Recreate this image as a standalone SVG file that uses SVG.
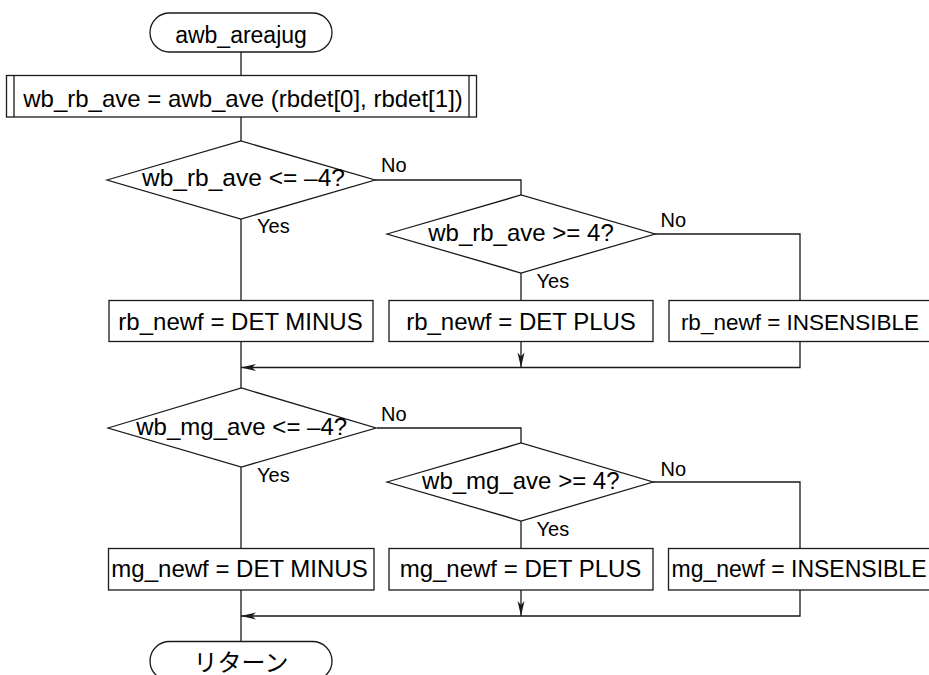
<svg xmlns="http://www.w3.org/2000/svg" width="929" height="675" viewBox="0 0 929 675">
<defs>
<style>
.s{fill:#fff;stroke:#1a1a1a;stroke-width:1.3}
.c{fill:none;stroke:#1a1a1a;stroke-width:1.3}
.t{font-family:"Liberation Sans",Arial,sans-serif;font-size:24px;fill:#000;text-anchor:middle}
.l{font-family:"Liberation Sans",Arial,sans-serif;font-size:20px;fill:#000}
.j{font-family:"Liberation Sans","Noto Sans CJK JP",sans-serif;font-size:24px;fill:#000;text-anchor:middle}
</style>
<marker id="arr" viewBox="-16 -5 17 10" refX="0" refY="0" markerWidth="17" markerHeight="10" orient="auto" markerUnits="userSpaceOnUse">
<path d="M0,0 L-15,-3.5 L-11,0 L-15,3.5 Z" fill="#1a1a1a"/>
</marker>
</defs>
<rect width="929" height="675" fill="#fff"/>
<g id="connectors">
<path class="c" d="M241,52 V75.5"/>
<path class="c" d="M241,117 V141"/>
<path class="c" d="M375,180 H521 V195"/>
<path class="c" d="M241,219 V300.5"/>
<path class="c" d="M521,273 V300.5"/>
<path class="c" d="M655,234 H800 V300.5"/>
<path class="c" d="M241,341.5 V388"/>
<path class="c" d="M521,341.5 V367.5" marker-end="url(#arr)"/>
<path class="c" d="M800,341.5 V367.5 H241" marker-end="url(#arr)"/>
<path class="c" d="M377,428 H521 V443"/>
<path class="c" d="M241,467 V548.5"/>
<path class="c" d="M521,521 V548.5"/>
<path class="c" d="M653,482 H800 V548.5"/>
<path class="c" d="M241,590 V641.5"/>
<path class="c" d="M521,590 V616" marker-end="url(#arr)"/>
<path class="c" d="M800,590 V616 H241" marker-end="url(#arr)"/>
</g>
<g id="labels">
<text class="l" x="381" y="172">No</text>
<text class="l" x="257" y="233">Yes</text>
<text class="l" x="660.5" y="227">No</text>
<text class="l" x="536.5" y="287.5">Yes</text>
<text class="l" x="381" y="420.5">No</text>
<text class="l" x="257" y="481.5">Yes</text>
<text class="l" x="660.5" y="475.5">No</text>
<text class="l" x="536.5" y="536">Yes</text>
</g>
<g id="start">
<rect class="s" x="150" y="13" width="182" height="39" rx="19.5"/>
<text class="t" x="241" y="42.5" style="font-size:23px">awb_areajug</text>
</g>
<g id="call_awb_ave">
<rect class="s" x="6.5" y="75.5" width="470" height="41.5"/>
<path class="c" d="M14,75.5 V117 M469,75.5 V117"/>
<text class="t" x="243" y="107">wb_rb_ave = awb_ave (rbdet[0], rbdet[1])</text>
</g>
<g id="dec_rb_minus">
<polygon class="s" points="107,180 241,141 375,180 241,219"/>
<text class="t" x="243.5" y="186" style="font-size:24.5px">wb_rb_ave &lt;= –4?</text>
</g>
<g id="dec_rb_plus">
<polygon class="s" points="387,234 521,195 655,234 521,273"/>
<text class="t" x="521" y="241">wb_rb_ave &gt;= 4?</text>
</g>
<g id="rb_minus">
<rect class="s" x="109" y="300.5" width="264" height="41"/>
<text class="t" x="240.5" y="329.5">rb_newf = DET MINUS</text>
</g>
<g id="rb_plus">
<rect class="s" x="389" y="300.5" width="264" height="41"/>
<text class="t" x="521" y="329.5">rb_newf = DET PLUS</text>
</g>
<g id="rb_insensible">
<rect class="s" x="669" y="300.5" width="262" height="41"/>
<text class="t" x="800" y="329.5" style="font-size:22.5px">rb_newf = INSENSIBLE</text>
</g>
<g id="dec_mg_minus">
<polygon class="s" points="108,428 241.5,388 376,428 241.5,467"/>
<text class="t" x="241.7" y="435">wb_mg_ave &lt;= –4?</text>
</g>
<g id="dec_mg_plus">
<polygon class="s" points="387,482 521,443 653,482 521,521"/>
<text class="t" x="520.8" y="488.5">wb_mg_ave &gt;= 4?</text>
</g>
<g id="mg_minus">
<rect class="s" x="108.5" y="548.5" width="265.5" height="41.5"/>
<text class="t" x="239.5" y="576.5">mg_newf = DET MINUS</text>
</g>
<g id="mg_plus">
<rect class="s" x="389" y="548.5" width="264" height="41.5"/>
<text class="t" x="520.5" y="576.5">mg_newf = DET PLUS</text>
</g>
<g id="mg_insensible">
<rect class="s" x="668.5" y="548.5" width="262" height="41.5"/>
<text class="t" x="799" y="576.5" style="font-size:23px">mg_newf = INSENSIBLE</text>
</g>
<g id="end">
<rect class="s" x="150" y="641.5" width="182" height="39" rx="19.5"/>
<text class="j" x="241" y="671">リターン</text>
</g>
</svg>
